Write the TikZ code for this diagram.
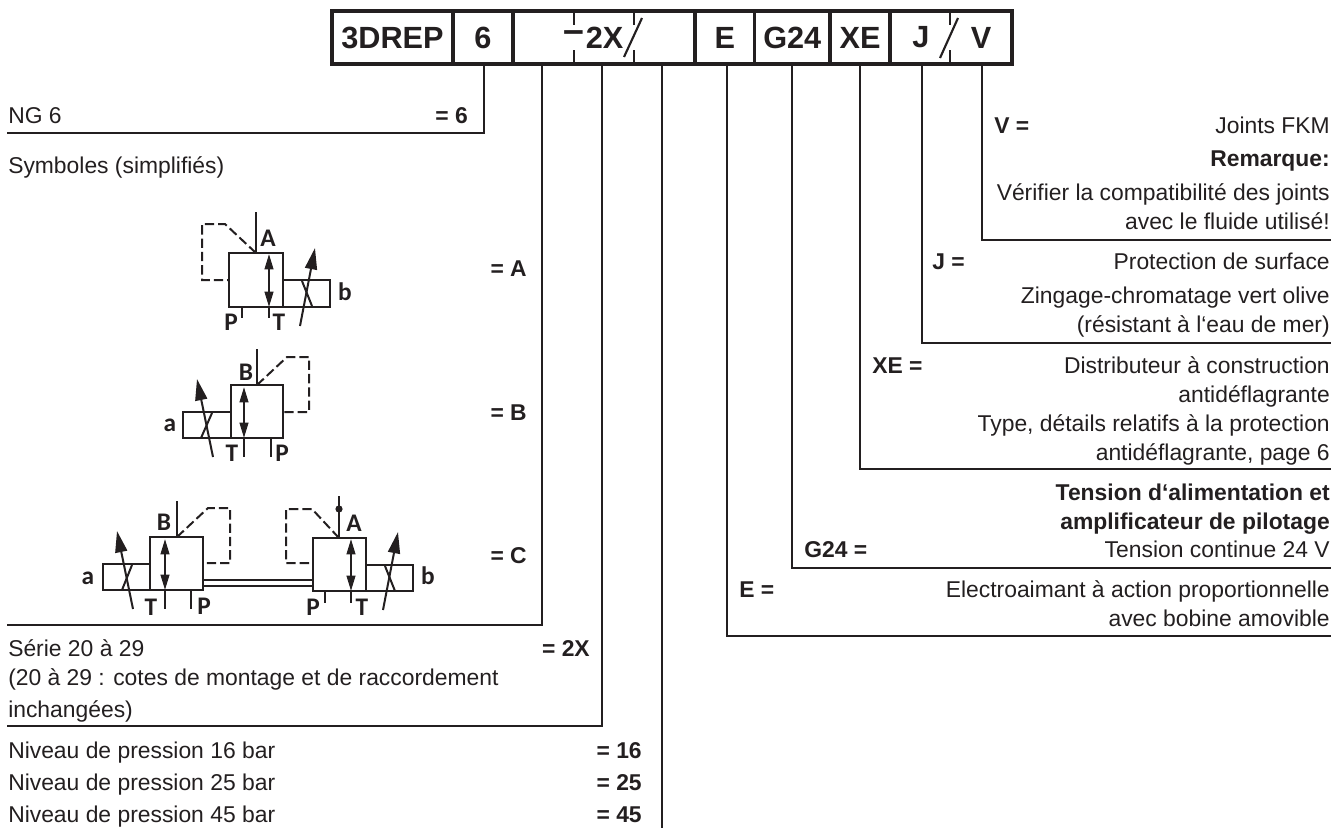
\documentclass[tikz,border=0pt]{standalone}
\usepackage{fontspec}
\setmainfont{Liberation Sans}
\newfontfamily\symfont[Scale=1]{Carlito}
\usetikzlibrary{arrows.meta}
\definecolor{ink}{HTML}{231F20}
\tikzset{
  cell/.style={draw=ink,line width=2.4pt,minimum height=39.75pt,inner sep=0pt,font=\fontsize{23}{25}\selectfont\bfseries,text=ink},
  code/.style={inner sep=0pt,font=\fontsize{23}{25}\selectfont\bfseries,text=ink},
  leader/.style={draw=ink,line width=1.05pt},
  tl/.style={inner sep=0pt,anchor=base west,font=\fontsize{17.15}{20}\selectfont,text=ink},
  tr/.style={inner sep=0pt,anchor=base east,font=\fontsize{17.15}{20}\selectfont,text=ink},
  bl/.style={tl,font=\fontsize{17.15}{20}\selectfont\bfseries},
  br/.style={tr,font=\fontsize{17.15}{20}\selectfont\bfseries},
  sym/.style={draw=ink,line width=1.5pt},
  pilot/.style={sym,dash pattern=on 7pt off 3pt},
  lab/.style={inner sep=0pt,font=\symfont\fontsize{19}{20}\selectfont\bfseries,text=ink},
  dbl/.style={sym,{Triangle[length=11.5pt,width=6.5pt]}-{Triangle[length=11.5pt,width=6.5pt]}},
  var/.style={sym,-{Triangle[length=16pt,width=9pt]}}
}
\begin{document}
\begin{tikzpicture}[x=0.75pt,y=-0.75pt]
\useasboundingbox (0,0) rectangle (1336,828);
% type-code box
\node[cell,minimum width=90.75pt] (c0) at (392.5,37.5) {3DREP};
\node[cell,minimum width=45pt] (c1) at (483,37.5) {6};
\node[cell,minimum width=136.5pt] (c2) at (604,37.5) {};
\node[cell,minimum width=44.6pt] (c3) at (724.75,37.5) {E};
\node[cell,minimum width=56.6pt] (c4) at (792.25,37.5) {G24};
\node[cell,minimum width=45pt] (c5) at (860,37.5) {XE};
\node[cell,minimum width=91.5pt] (c6) at (951,37.5) {};
\node[code,font=\fontsize{28}{28}\selectfont\bfseries] (dash) at (574,37) {–};
\node[code] (twox) at (604.5,37.5) {2X};
\node[code] (jj) at (921,37.5) {J};
\node[code] (vv) at (981,37.5) {V};
\draw[ink,line width=1.6pt] (574,11)--(574,25) (574,50)--(574,64) (634,11)--(634,25) (634,50)--(634,64) (950,11)--(950,25) (950,50)--(950,64);
\draw[ink,line width=1.6pt] (624,57)--(642,18) (940,58)--(958,18);
% stems
\coordinate (s1) at (484,64); \coordinate (e1) at (7,133);
\coordinate (s2) at (542,64); \coordinate (e2) at (7,625);
\coordinate (s3) at (602,64); \coordinate (e3) at (7,726);
\coordinate (s4) at (662,64); \coordinate (e4) at (662,828);
\coordinate (s5) at (727,64); \coordinate (e5) at (1331,636);
\coordinate (s6) at (792,64); \coordinate (e6) at (1331,568);
\coordinate (s7) at (860,64); \coordinate (e7) at (1331,469);
\coordinate (s8) at (922,64); \coordinate (e8) at (1331,343);
\coordinate (s9) at (982,64); \coordinate (e9) at (1331,240);
\draw[leader] (s1) |- (e1);
\draw[leader] (s2) |- (e2);
\draw[leader] (s3) |- (e3);
\draw[leader] (s4) -- (e4);
\draw[leader] (s5) |- (e5);
\draw[leader] (s6) |- (e6);
\draw[leader] (s7) |- (e7);
\draw[leader] (s8) |- (e8);
\draw[leader] (s9) |- (e9);
% left texts
\node[tl] (t1) at (8,123) {NG 6};
\node[br] (t2) at (468,123) {= 6};
\node[tl] (t3) at (8,173) {Symboles (simplifiés)};
\node[br] (t4) at (527,276) {= A};
\node[br] (t5) at (527,420) {= B};
\node[br] (t6) at (527,563) {= C};
\node[tl] (t7) at (8,656) {Série 20 à 29};
\node[br] (t8) at (590,656) {= 2X};
\node[tl] (t9) at (8,685) {(20 à 29 : cotes de montage et de raccordement};
\node[tl] (t10) at (8,717) {inchangées)};
\node[tl] (t11) at (8,758) {Niveau de pression 16 bar};
\node[br] (t12) at (642,758) {= 16};
\node[tl] (t13) at (8,790) {Niveau de pression 25 bar};
\node[br] (t14) at (642,790) {= 25};
\node[tl] (t15) at (8,822) {Niveau de pression 45 bar};
\node[br] (t16) at (642,822) {= 45};
% right texts
\node[bl] (r1) at (994,133) {V =};
\node[tr] (r2) at (1330,133) {Joints FKM};
\node[br] (r3) at (1330,166) {Remarque:};
\node[tr] (r4) at (1330,200) {Vérifier la compatibilité des joints};
\node[tr] (r5) at (1330,229) {avec le fluide utilisé!};
\node[bl] (r6) at (932,269) {J =};
\node[tr] (r7) at (1330,269) {Protection de surface};
\node[tr] (r8) at (1330,303) {Zingage-chromatage vert olive};
\node[tr] (r9) at (1330,332) {(résistant à l‘eau de mer)};
\node[bl] (r10) at (872,373) {XE =};
\node[tr] (r11) at (1330,373) {Distributeur à construction};
\node[tr] (r12) at (1330,402) {antidéflagrante};
\node[tr] (r13) at (1330,431) {Type, détails relatifs à la protection};
\node[tr] (r14) at (1330,460) {antidéflagrante, page 6};
\node[br] (r15) at (1330,500) {Tension d‘alimentation et};
\node[br] (r16) at (1330,529) {amplificateur de pilotage};
\node[bl] (r17) at (804,557) {G24 =};
\node[tr] (r18) at (1330,557) {Tension continue 24 V};
\node[bl] (r19) at (739,597) {E =};
\node[tr] (r20) at (1330,597) {Electroaimant à action proportionnelle};
\node[tr] (r21) at (1330,626) {avec bobine amovible};
% symbol A
\draw[sym] (229,253) rectangle (283,307);
\draw[sym] (283,280) rectangle (330,307);
\draw[sym] (256,212)--(256,253);
\draw[pilot] (256,253)--(225,224)--(202,224)--(202,280)--(229,280);
\draw[dbl] (269,254)--(269,307); \draw[sym] (269,307)--(269,318);
\draw[sym] (242,307)--(242,318);
\draw[var] (300,326)--(315,248);
\draw[sym] (302,281)--(312,306);
\node[lab] (la1) at (268,238) {A}; \node[lab] (la2) at (345,292) {b};
\node[lab] (la3) at (231,322) {P}; \node[lab] (la4) at (279,322) {T};
% symbol B
\draw[sym] (231,385) rectangle (283,438);
\draw[sym] (183,412) rectangle (231,438);
\draw[sym] (257,349)--(257,385);
\draw[pilot] (257,385)--(287,357)--(309,357)--(309,412)--(283,412);
\draw[dbl] (244,387)--(244,438); \draw[sym] (244,438)--(244,457);
\draw[sym] (271,438)--(271,457);
\draw[var] (213,457)--(197,379);
\draw[sym] (212,413)--(201,438);
\node[lab] (lb1) at (246,372) {B}; \node[lab] (lb2) at (170,425) {a};
\node[lab] (lb3) at (232,453) {T}; \node[lab] (lb4) at (282,453) {P};
% symbol C, left
\draw[sym] (150,537) rectangle (203,590);
\draw[sym] (103,564) rectangle (150,590);
\draw[sym] (177,501)--(177,537);
\draw[pilot] (177,537)--(208,508)--(230,508)--(230,563)--(203,563);
\draw[dbl] (165,539)--(165,590); \draw[sym] (165,590)--(165,609);
\draw[sym] (191,590)--(191,609);
\draw[var] (133,609)--(117,531);
\draw[sym] (132,565)--(122,590);
\node[lab] (lc1) at (164,522) {B}; \node[lab] (lc2) at (88,578) {a};
\node[lab] (lc3) at (151,607) {T}; \node[lab] (lc4) at (204,606) {P};
% linkage
\draw[sym] (203,580)--(313,580) (203,586)--(313,586);
% symbol C, right
\draw[sym] (313,538) rectangle (366,591);
\draw[sym] (366,565) rectangle (413,591);
\draw[sym] (339,496)--(339,538);
\fill[ink] (339,509) circle (2.7pt);
\draw[pilot] (339,538)--(312,509)--(286,509)--(286,563)--(313,563);
\draw[dbl] (351,539)--(351,591); \draw[sym] (351,591)--(351,603);
\draw[sym] (325,591)--(325,603);
\draw[var] (383,610)--(398,532);
\draw[sym] (385,566)--(395,591);
\node[lab] (ld1) at (354,523) {A}; \node[lab] (ld2) at (428,576) {b};
\node[lab] (ld3) at (313,607) {P}; \node[lab] (ld4) at (362,607) {T};
\end{tikzpicture}
\end{document}
